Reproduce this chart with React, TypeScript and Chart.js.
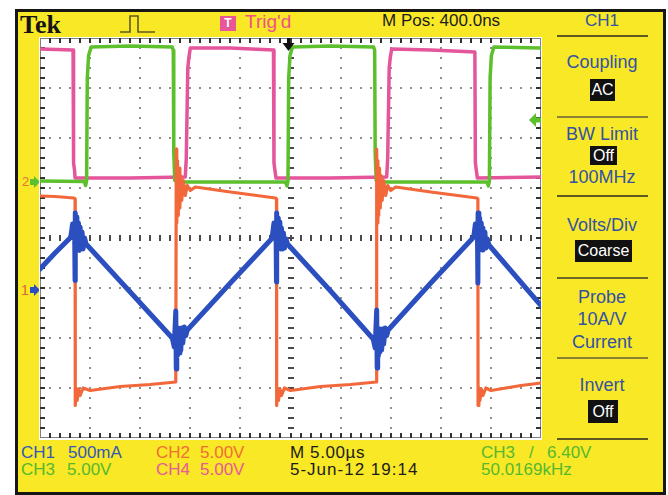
import React, { useEffect, useRef } from "react";
import { Chart, registerables } from "chart.js";

Chart.register(...registerables);

// ---------------- data (time in µs, amplitude in divisions) ----------------
const timeRangeUs = [0, 50];
const divRange = [-4, 4];
const triggerTimeUs = 24.8;
const triggerLevelDiv = 2.36;

// CH1 – inductor current (blue triangle with switching bursts)
const ch1Times = [
  0, 1.5,
  3.0, 3.1, 3.25, 3.35, 3.45, 3.5, 3.52, 3.6, 3.68, 3.76, 3.84, 3.92, 4.0, 4.1, 4.2, 4.3, 4.45, 4.6,
  9.0,
  13.2, 13.4, 13.55, 13.6, 13.65, 13.72, 13.8, 13.88, 13.96, 14.05, 14.15, 14.25, 14.4, 14.55, 14.7,
  19.0,
  23.1, 23.2, 23.35, 23.45, 23.55, 23.6, 23.62, 23.7, 23.78, 23.86, 23.94, 24.02, 24.1, 24.2, 24.3, 24.4, 24.55, 24.7,
  29.0,
  33.25, 33.45, 33.6, 33.65, 33.7, 33.77, 33.85, 33.93, 34.01, 34.1, 34.2, 34.3, 34.45, 34.6, 34.75,
  39.0,
  43.2, 43.3, 43.45, 43.55, 43.65, 43.7, 43.72, 43.8, 43.88, 43.96, 44.04, 44.12, 44.2, 44.3, 44.4, 44.5, 44.65, 44.8,
  50,
];
const ch1Divs = [
  -0.62, -0.3,
  0.0, 0.05, 0.28, 0.0, 0.3, -0.85, 0.5, -0.1, 0.42, -0.2, 0.3, -0.25, 0.22, -0.2, 0.12, -0.22, 0.0, -0.12,
  -1.08,
  -2.0, -2.18, -1.46, -2.62, -1.9, -2.35, -1.8, -2.3, -1.85, -2.25, -1.8, -2.1, -1.78, -1.95, -1.84,
  -0.9,
  -0.02, 0.06, 0.3, 0.02, 0.28, -0.88, 0.5, -0.12, 0.4, -0.18, 0.32, -0.22, 0.2, -0.22, 0.1, -0.2, -0.02, -0.12,
  -1.06,
  -2.02, -2.2, -1.44, -2.6, -1.92, -2.36, -1.82, -2.28, -1.86, -2.24, -1.82, -2.12, -1.8, -1.95, -1.84,
  -0.9,
  0.0, 0.04, 0.28, 0.04, 0.3, -0.9, 0.5, -0.08, 0.4, -0.2, 0.3, -0.24, 0.2, -0.2, 0.12, -0.2, -0.02, -0.14,
  -1.35,
];

// CH2 – switch node voltage (orange)
const ch2Times = [
  0, 1.5, 3.4, 3.5, 3.52, 3.6, 3.7, 3.85, 4.0, 4.3, 5, 8, 11, 13.55,
  13.6, 13.65, 13.72, 13.8, 13.88, 13.96, 14.05, 14.15, 14.3, 14.5, 14.7, 15.0, 15.5, 19, 23.5,
  23.6, 23.62, 23.7, 23.8, 23.95, 24.1, 24.4, 25, 28, 31, 33.55,
  33.6, 33.65, 33.72, 33.8, 33.88, 33.96, 34.05, 34.15, 34.3, 34.5, 34.7, 35.0, 35.5, 39, 43.6,
  43.7, 43.72, 43.8, 43.9, 44.05, 44.2, 44.5, 45, 48, 50,
];
const ch2Divs = [
  0.84, 0.83, 0.8, 0.78, -3.35, -3.0, -3.25, -3.02, -3.15, -3.0, -3.05, -2.97, -2.93, -2.88,
  1.78, 0.3, 1.55, 0.45, 1.4, 0.6, 1.25, 0.75, 1.15, 0.85, 1.05, 0.95, 1.02, 0.92, 0.8,
  0.78, -3.35, -3.0, -3.25, -3.02, -3.15, -3.0, -3.05, -2.97, -2.93, -2.88,
  1.78, 0.3, 1.55, 0.45, 1.4, 0.6, 1.25, 0.75, 1.15, 0.85, 1.05, 0.95, 1.02, 0.92, 0.8,
  0.78, -3.35, -3.0, -3.25, -3.02, -3.15, -3.0, -3.05, -2.95, -2.9,
];

// CH3 – gate drive (green)
const ch3Times = [
  0, 4.4, 4.55, 4.65, 4.72, 4.85, 5.1, 9, 13.2, 13.3, 13.35, 13.45, 14, 20,
  24.5, 24.65, 24.75, 24.82, 24.95, 25.2, 29, 33.3, 33.4, 33.45, 33.55, 34, 40,
  44.6, 44.75, 44.85, 44.92, 45.05, 45.3, 50,
];
const ch3Divs = [
  1.14, 1.13, 1.05, 1.14, 3.2, 3.65, 3.82, 3.84, 3.82, 3.75, 1.7, 1.15, 1.12, 1.12,
  1.12, 1.04, 1.14, 3.2, 3.65, 3.82, 3.84, 3.82, 3.75, 1.7, 1.15, 1.12, 1.12,
  1.12, 1.04, 1.14, 3.2, 3.65, 3.82, 3.8,
];

// CH4 – complementary gate drive (pink)
const ch4Times = [
  0, 3.3, 3.35, 3.45, 3.5, 9, 14.5, 14.6, 14.75, 14.85, 15.0, 19,
  23.3, 23.35, 23.45, 23.55, 29, 34.6, 34.7, 34.85, 34.95, 35.1, 39,
  43.4, 43.45, 43.55, 43.65, 50,
];
const ch4Divs = [
  3.78, 3.76, 1.5, 1.35, 1.2, 1.2, 1.22, 1.6, 3.4, 3.6, 3.8, 3.8,
  3.76, 1.5, 1.35, 1.2, 1.2, 1.22, 1.6, 3.4, 3.6, 3.78, 3.76,
  3.72, 1.5, 1.35, 1.2, 1.22,
];

// ---------------- styling ----------------
const YELLOW = "#f8e826";
const BLUE = "#2c4fc0";
const ORANGE = "#f3683a";
const GREEN = "#5cbf2c";
const PINK = "#e4559b";
const TXT_BLUE = "#3352a4";
const SANS = "'Liberation Sans', Arial, sans-serif";
const SERIF = "'Liberation Serif', 'Times New Roman', serif";

const toPoints = (ts: number[], vs: number[]) => ts.map((t, i) => ({ x: t, y: vs[i] }));

const graticule = {
  id: "graticule",
  beforeDraw(chart: any) {
    const { ctx, width, height } = chart;
    ctx.save();
    ctx.fillStyle = "#ffffff";
    ctx.fillRect(0, 0, width, height);
    ctx.restore();
  },
  beforeDatasetsDraw(chart: any) {
    const { ctx, chartArea: a, scales } = chart;
    const xs = (t: number) => Math.round(scales.x.getPixelForValue(t));
    const ys = (v: number) => Math.round(scales.y.getPixelForValue(v));
    ctx.save();
    ctx.fillStyle = "#8f8f8f";
    for (let i = 1; i < 10; i++) {
      if (i === 5) continue;
      const px = xs(i * 5);
      for (let k = 1; k < 40; k++) ctx.fillRect(px - 1, ys(-4 + k * 0.2) - 1, 2, 2);
    }
    for (let j = 1; j < 8; j++) {
      if (j === 4) continue;
      const py = ys(-4 + j);
      for (let k = 1; k < 50; k++) ctx.fillRect(xs(k) - 1, py - 1, 2, 2);
    }
    ctx.fillStyle = "#4a4a4a";
    const cx = xs(25);
    const cy = ys(0);
    for (let k = 1; k < 50; k++) ctx.fillRect(xs(k) - 1, cy - 3, 2, 6);
    for (let k = 1; k < 40; k++) ctx.fillRect(cx - 3, ys(-4 + k * 0.2) - 1, 6, 2);
    ctx.strokeStyle = "#808080";
    ctx.lineWidth = 1;
    ctx.strokeRect(a.left + 0.5, a.top + 0.5, a.width - 1, a.height - 1);
    ctx.fillStyle = "#333333";
    for (let k = 1; k < 50; k++) {
      const px = xs(k);
      ctx.fillRect(px - 1, a.top, 2, 5);
      ctx.fillRect(px - 1, a.bottom - 5, 2, 5);
    }
    for (let k = 1; k < 40; k++) {
      const py = ys(-4 + k * 0.2);
      ctx.fillRect(a.left, py - 1, 5, 2);
      ctx.fillRect(a.right - 5, py - 1, 5, 2);
    }
    ctx.restore();
  },
  afterDatasetsDraw(chart: any) {
    const { ctx, chartArea: a, scales } = chart;
    const px = scales.x.getPixelForValue(triggerTimeUs);
    const py = scales.y.getPixelForValue(triggerLevelDiv);
    ctx.save();
    ctx.fillStyle = "#111111";
    ctx.fillRect(px - 1.5, a.top, 3, 7);
    ctx.beginPath();
    ctx.moveTo(px - 6, a.top + 5);
    ctx.lineTo(px + 6, a.top + 5);
    ctx.lineTo(px, a.top + 13);
    ctx.closePath();
    ctx.fill();
    ctx.fillStyle = GREEN;
    ctx.beginPath();
    ctx.moveTo(a.right - 12, py);
    ctx.lineTo(a.right - 5, py - 7);
    ctx.lineTo(a.right - 5, py + 7);
    ctx.closePath();
    ctx.fill();
    ctx.fillRect(a.right - 6, py - 2.5, 6, 5);
    ctx.restore();
  },
};

function ScopeChart() {
  const ref = useRef<HTMLCanvasElement>(null);
  useEffect(() => {
    const common = { pointRadius: 0, tension: 0, fill: false, borderJoinStyle: "round" as const, borderCapStyle: "round" as const };
    const chart = new Chart(ref.current as HTMLCanvasElement, {
      type: "line",
      data: {
        datasets: [
          { ...common, label: "CH1", data: toPoints(ch1Times, ch1Divs), borderColor: BLUE, borderWidth: 5 },
          { ...common, label: "CH2", data: toPoints(ch2Times, ch2Divs), borderColor: ORANGE, borderWidth: 3.2 },
          { ...common, label: "CH3", data: toPoints(ch3Times, ch3Divs), borderColor: GREEN, borderWidth: 3.5 },
          { ...common, label: "CH4", data: toPoints(ch4Times, ch4Divs), borderColor: PINK, borderWidth: 3.5 },
        ],
      },
      options: {
        animation: false,
        responsive: true,
        maintainAspectRatio: false,
        layout: { padding: { left: 1, right: 1, top: 1, bottom: 2 } },
        plugins: { legend: { display: false }, tooltip: { enabled: false } },
        events: [],
        scales: {
          x: { type: "linear", min: timeRangeUs[0], max: timeRangeUs[1], display: false },
          y: { type: "linear", min: divRange[0], max: divRange[1], display: false },
        },
      },
      plugins: [graticule],
    });
    return () => chart.destroy();
  }, []);
  return (
    <div style={{ position: "absolute", left: 39, top: 37, width: 503, height: 403 }}>
      <canvas ref={ref} />
    </div>
  );
}

type TP = { x: number; y: number; size?: number; color?: string; bold?: boolean; family?: string; ls?: number; children: React.ReactNode };
const Txt = ({ x, y, size = 17, color = "#1c1c1c", bold, family = SANS, ls = 0, children }: TP) => (
  <div
    style={{
      position: "absolute",
      left: x,
      top: y,
      fontSize: size,
      lineHeight: `${size}px`,
      color,
      fontFamily: family,
      fontWeight: bold ? 700 : 400,
      letterSpacing: ls,
      whiteSpace: "nowrap",
    }}
  >
    {children}
  </div>
);

const PanelTxt = ({ y, size = 18, children }: { y: number; size?: number; children: React.ReactNode }) => (
  <div
    style={{
      position: "absolute",
      left: 541,
      width: 122,
      top: y,
      textAlign: "center",
      fontSize: size,
      lineHeight: `${size}px`,
      color: TXT_BLUE,
      fontFamily: SANS,
      whiteSpace: "nowrap",
    }}
  >
    {children}
  </div>
);

const Box = ({ x, y, w, h, children }: { x: number; y: number; w: number; h: number; children: React.ReactNode }) => (
  <div
    style={{
      position: "absolute",
      left: x,
      top: y,
      width: w,
      height: h,
      background: "#111111",
      color: "#ffffff",
      fontFamily: SANS,
      fontSize: 16,
      lineHeight: `${h}px`,
      textAlign: "center",
      whiteSpace: "nowrap",
    }}
  >
    {children}
  </div>
);

const Sep = ({ y, color = "#8a8232" }: { y: number; color?: string }) => (
  <div style={{ position: "absolute", left: 557, top: y - 1, width: 91, height: 2, background: color }} />
);

export default function App() {
  return (
    <div style={{ position: "fixed", left: 0, top: 0, width: 668, height: 495, background: "#ffffff", overflow: "hidden" }}>
      <div
        style={{
          position: "absolute",
          left: 15,
          top: 9,
          width: 651,
          height: 486,
          background: YELLOW,
          border: "3px solid #161616",
          boxSizing: "border-box",
        }}
      />
      {/* header */}
      <Txt x={20} y={12} size={26} bold family={SERIF} color="#141414">Tek</Txt>
      <svg style={{ position: "absolute", left: 118, top: 12, width: 40, height: 24 }} width={40} height={24}>
        <path d="M2 20 H12 V4 H20 V20 H37" fill="none" stroke="#5f5a1e" strokeWidth={1.6} />
      </svg>
      <div
        style={{
          position: "absolute",
          left: 220,
          top: 16,
          width: 16,
          height: 15,
          background: "#e8569a",
          color: "#fff",
          fontFamily: SANS,
          fontWeight: 700,
          fontSize: 12,
          lineHeight: "15px",
          textAlign: "center",
        }}
      >
        T
      </div>
      <Txt x={245} y={12} size={19} color="#ee5288">Trig'd</Txt>
      <Txt x={382} y={12} size={17}>M Pos: 400.0ns</Txt>
      <PanelTxt y={12} size={17}>CH1</PanelTxt>
      <Sep y={36} color="#5e5820" />

      {/* right menu */}
      <PanelTxt y={53}>Coupling</PanelTxt>
      <Box x={590} y={79} w={25} h={22}>AC</Box>
      <Sep y={117} />
      <PanelTxt y={125}>BW Limit</PanelTxt>
      <Box x={590} y={146} w={27} h={19}>Off</Box>
      <PanelTxt y={168}>100MHz</PanelTxt>
      <Sep y={196} color="#5e5820" />
      <PanelTxt y={216}>Volts/Div</PanelTxt>
      <Box x={575} y={240} w={57} h={22}>Coarse</Box>
      <Sep y={278} color="#6e6826" />
      <PanelTxt y={288}>Probe</PanelTxt>
      <PanelTxt y={310}>10A/V</PanelTxt>
      <PanelTxt y={333}>Current</PanelTxt>
      <Sep y={358} />
      <PanelTxt y={376}>Invert</PanelTxt>
      <Box x={588} y={400} w={30} h={23}>Off</Box>
      <Sep y={439} color="#5e5820" />

      {/* channel ground markers */}
      <Txt x={22} y={175} size={13} color="#e9713f">2</Txt>
      <svg style={{ position: "absolute", left: 30, top: 176, width: 10, height: 12 }} width={10} height={12}>
        <path d="M0 3 H4 V0 L10 6 L4 12 V9 H0 Z" fill={GREEN} />
      </svg>
      <Txt x={21} y={283} size={14} color="#e0603a">1</Txt>
      <svg style={{ position: "absolute", left: 30, top: 284, width: 10, height: 12 }} width={10} height={12}>
        <path d="M0 3 H4 V0 L10 6 L4 12 V9 H0 Z" fill={BLUE} />
      </svg>

      <ScopeChart />

      {/* footer */}
      <Txt x={21} y={444} size={17} color="#3558b4">CH1</Txt>
      <Txt x={68} y={444} size={17} color="#3558b4">500mA</Txt>
      <Txt x={156} y={444} size={17} color="#f07034">CH2</Txt>
      <Txt x={200} y={444} size={17} color="#f07034">5.00V</Txt>
      <Txt x={290} y={444} size={17} ls={0.6}>M 5.00µs</Txt>
      <Txt x={481} y={444} size={17} color="#56b82f">CH3</Txt>
      <Txt x={529} y={444} size={17} color="#56b82f">/</Txt>
      <Txt x={547} y={444} size={17} color="#56b82f">6.40V</Txt>

      <Txt x={21} y={461} size={17} color="#56b82f">CH3</Txt>
      <Txt x={67} y={461} size={17} color="#56b82f">5.00V</Txt>
      <Txt x={156} y={461} size={17} color="#e85a98">CH4</Txt>
      <Txt x={200} y={461} size={17} color="#e85a98">5.00V</Txt>
      <Txt x={290} y={461} size={17} ls={1}>5-Jun-12 19:14</Txt>
      <Txt x={481} y={461} size={17} color="#56b82f">50.0169kHz</Txt>
    </div>
  );
}
